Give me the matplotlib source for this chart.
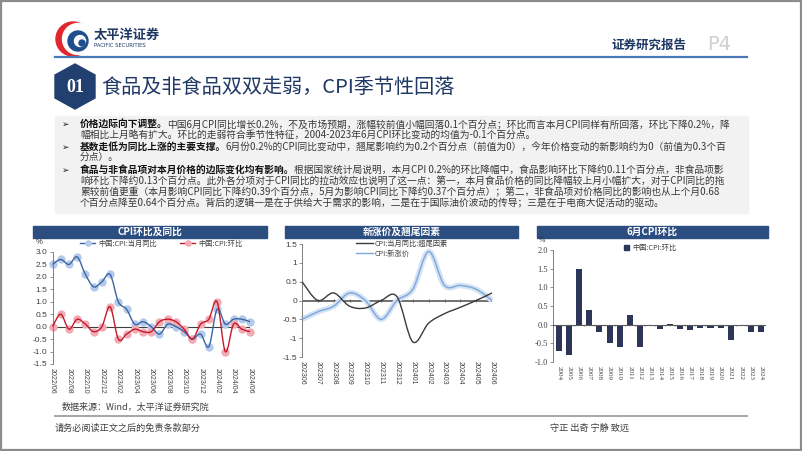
import matplotlib

matplotlib.use("Agg")
import matplotlib.pyplot as plt
from matplotlib.lines import Line2D
from matplotlib.patches import Circle, Patch, PathPatch, Polygon, Rectangle
from matplotlib.path import Path

plt.rcParams["font.family"] = ["Noto Sans CJK SC", "DejaVu Sans"]

W, H = 802, 451

# --- chart 1: CPI yoy / mom -------------------------------------------------
CPI_MONTHS = [
    "2022/06", "2022/07", "2022/08", "2022/09", "2022/10", "2022/11", "2022/12",
    "2023/01", "2023/02", "2023/03", "2023/04", "2023/05", "2023/06", "2023/07",
    "2023/08", "2023/09", "2023/10", "2023/11", "2023/12", "2024/01", "2024/02",
    "2024/03", "2024/04", "2024/05", "2024/06",
]
CPI_YOY = [2.5, 2.7, 2.5, 2.8, 2.1, 1.6, 1.8, 2.1, 1.0, 0.7, 0.1, 0.2, 0.0,
           -0.3, 0.1, 0.0, -0.2, -0.5, -0.3, -0.8, 0.7, 0.1, 0.3, 0.3, 0.2]
CPI_MOM = [0.0, 0.5, -0.1, 0.3, 0.1, -0.2, 0.0, 0.8, -0.5, -0.3, -0.1, -0.2, -0.2,
           0.2, 0.3, 0.2, -0.1, -0.5, 0.1, 0.3, 1.0, -1.0, 0.1, -0.1, -0.2]

# --- chart 2: carry-over vs new price ---------------------------------------
DECOMP_MONTHS = ["202306", "202307", "202308", "202309", "202310", "202311", "202312",
                 "202401", "202402", "202403", "202404", "202405", "202406"]
CARRYOVER = [0.5, 0.0, 0.2, -0.15, -0.2, 0.0, 0.1, -1.1, -0.6, -0.35, -0.18, 0.0, 0.2]
NEW_PRICE = [-0.5, -0.3, -0.15, 0.2, 0.0, -0.5, 0.0, 0.3, 1.3, 0.4, 0.4, 0.3, 0.0]

# --- chart 3: June mom by year ----------------------------------------------
JUNE_YEARS = ["2004", "2005", "2006", "2007", "2008", "2009", "2010", "2011", "2012",
              "2013", "2014", "2015", "2016", "2017", "2018", "2019", "2020", "2021",
              "2022", "2023", "2024"]
JUNE_MOM = [-0.7, -0.8, 1.5, 0.4, -0.2, -0.5, -0.6, 0.27, -0.6, 0.0, -0.12, 0.02,
            -0.12, -0.15, -0.1, -0.1, -0.1, -0.4, 0.0, -0.2, -0.2]

# --- body text ----------------------------------------------------------------
BODY = [
    ("价格边际向下调整。", "中国6月CPI同比增长0.2%，不及市场预期，涨幅较前值小幅回落0.1个百分点；环比而言本月CPI同样有所回落，环比下降0.2%，降"),
    ("", "幅相比上月略有扩大。环比的走弱符合季节性特征，2004-2023年6月CPI环比变动的均值为-0.1个百分点。"),
    ("基数走低为同比上涨的主要支撑。", "6月份0.2%的CPI同比变动中，翘尾影响约为0.2个百分点（前值为0），今年价格变动的新影响约为0（前值为0.3个百"),
    ("", "分点）。"),
    ("食品与非食品项对本月价格的边际变化均有影响。", "根据国家统计局说明，本月CPI 0.2%的环比降幅中，食品影响环比下降约0.11个百分点，非食品项影"),
    ("", "响环比下降约0.13个百分点。此外各分项对于CPI同比的拉动效应也说明了这一点：第一，本月食品价格的同比降幅较上月小幅扩大，对于CPI同比的拖"),
    ("", "累较前值更重（本月影响CPI同比下降约0.39个百分点，5月为影响CPI同比下降约0.37个百分点）；第二，非食品项对价格同比的影响也从上个月0.68"),
    ("", "个百分点降至0.64个百分点。背后的逻辑一是在于供给大于需求的影响，二是在于国际油价波动的传导；三是在于电商大促活动的驱动。"),
]
BODY_Y = [124, 135, 147, 157, 170, 181, 192, 202]

NAVY = "#1F3864"
HEADER_BLUE = "#2C4D7F"
TEXT = "#383838"
FS_BODY = 7.0


def px_axes(fig, x0, y0, x1, y1):
    return fig.add_axes([x0 / W, 1 - y1 / H, (x1 - x0) / W, (y1 - y0) / H])


def smooth_path(xs, ys):
    pts = list(zip(xs, ys))
    n = len(pts)
    verts, codes = [pts[0]], [Path.MOVETO]
    for i in range(n - 1):
        p0 = pts[i - 1] if i > 0 else pts[i]
        p1, p2 = pts[i], pts[i + 1]
        p3 = pts[i + 2] if i + 2 < n else pts[i + 1]
        c1 = (p1[0] + (p2[0] - p0[0]) / 6, p1[1] + (p2[1] - p0[1]) / 6)
        c2 = (p2[0] - (p3[0] - p1[0]) / 6, p2[1] - (p3[1] - p1[1]) / 6)
        verts += [c1, c2, p2]
        codes += [Path.CURVE4] * 3
    return Path(verts, codes)


def chart_header(bg, x0, x1, title):
    bg.add_patch(Rectangle((x0, 226), x1 - x0, 11.5, color=HEADER_BLUE, zorder=2))
    bg.text((x0 + x1) / 2, 231.5, title, color="white", fontsize=7, fontweight="bold",
            ha="center", va="center", zorder=3)


def style_axes(ax, tick_font, ysize):
    ax.set_facecolor("none")
    for side in ("top", "right", "bottom"):
        ax.spines[side].set_visible(False)
    ax.spines["left"].set_color("#7F7F7F")
    ax.spines["left"].set_linewidth(0.7)
    ax.tick_params(axis="y", length=2, width=0.6, color="#7F7F7F", pad=1.5,
                   labelsize=ysize, labelcolor="#404040")
    ax.tick_params(axis="x", length=0, pad=3, labelsize=5, labelcolor="#404040")
    for lab in ax.get_yticklabels():
        lab.set_family(tick_font)


def draw_frame(fig):
    bg = fig.add_axes([0, 0, 1, 1])
    bg.set_xlim(0, W)
    bg.set_ylim(H, 0)
    bg.axis("off")

    # slide border
    bg.add_patch(Rectangle((0.8, 0.8), W - 1.6, H - 1.6, fill=False,
                           edgecolor="#8C8C8C", lw=1.6))

    # logo
    bg.add_patch(Circle((73, 39), 17, color="#E1262D"))
    bg.add_patch(Circle((78, 39), 15.5, color="white"))
    bg.add_patch(Circle((78, 41), 10, color="#1E4E8C"))
    bg.add_patch(Circle((80, 41), 5.5, color="white"))
    bg.add_patch(Circle((82, 43), 3, color="#1E4E8C"))
    bg.text(94, 35, "太平洋证券", fontsize=9.5, fontweight="bold", color=NAVY, va="center")
    bg.text(94, 45.5, "PACIFIC SECURITIES", fontsize=3.8, color=NAVY, va="center",
            family="DejaVu Sans")

    bg.text(611, 45, "证券研究报告", fontsize=9, fontweight="bold", color=NAVY, va="center")
    bg.text(707, 45, "P4", fontsize=14, color="#CFCFCF", va="center", family="DejaVu Sans")
    bg.plot([55, 747], [56.5, 56.5], color="#4A78B5", lw=1.6)

    # section badge and title
    bg.add_patch(Polygon([(75, 64), (95, 75), (95, 98), (75, 109), (55, 98), (55, 75)],
                         closed=True, color="#21406F"))
    bg.text(75, 87, "01", color="white", fontsize=13, fontweight="bold",
            ha="center", va="center", family="Liberation Serif")
    bg.text(101, 87, "食品及非食品双双走弱，CPI季节性回落", fontsize=14.5, color=NAVY,
            va="center")

    # text box
    bg.add_patch(Rectangle((55, 116), 693, 97, color="#F2F2F2", zorder=0))
    for (bold, rest), y in zip(BODY, BODY_Y):
        if bold:
            bg.text(62, y, "➢", fontsize=6.5, color="#222222", va="center",
                    family=["DejaVu Sans"])
            bg.text(80, y, bold, fontsize=FS_BODY, fontweight="bold", color="#111111",
                    va="center")
            bg.annotate(rest, xy=(80, y), xytext=(len(bold) * FS_BODY, 0),
                        textcoords="offset points", fontsize=FS_BODY, color=TEXT,
                        va="center")
        else:
            bg.text(80, y, rest, fontsize=FS_BODY, color=TEXT, va="center")

    chart_header(bg, 33, 267, "CPI环比及同比")
    chart_header(bg, 285, 518, "新涨价及翘尾因素")
    chart_header(bg, 537, 768, "6月CPI环比")

    bg.text(39, 242, "%", fontsize=5.5, color="#333333", ha="center", va="center",
            family="Liberation Sans")
    bg.text(542, 240, "%", fontsize=5.5, color="#333333", ha="center", va="center",
            family="Liberation Serif")

    bg.text(62, 407, "数据来源：Wind，太平洋证券研究院", fontsize=6.5, color="#404040",
            va="center")
    bg.plot([55, 747], [416, 416], color="#A6A6A6", lw=1.4)
    bg.text(55, 428, "请务必阅读正文之后的免责条款部分", fontsize=6.6, color="#404040",
            va="center")
    bg.text(550, 428, "守正 出奇 宁静 致远", fontsize=6.6, color="#404040", va="center")
    return bg


def plot_cpi(fig):
    ax = px_axes(fig, 52.5, 252, 250, 364)
    xs = list(range(len(CPI_MONTHS)))
    ax.set_xlim(0, len(CPI_MONTHS) - 1)
    ax.set_ylim(-1.5, 3.0)
    ax.set_yticks([-1.5, -1.0, -0.5, 0.0, 0.5, 1.0, 1.5, 2.0, 2.5, 3.0])
    ax.set_yticklabels([f"{v:.1f}" for v in ax.get_yticks()])
    ax.set_xticks(xs[::2])
    ax.set_xticklabels(CPI_MONTHS[::2], rotation=-90, family="Liberation Sans")
    style_axes(ax, "Liberation Sans", 6)
    ax.axhline(0, color="#404040", lw=0.8, zorder=1)

    ax.plot(xs, CPI_YOY, "o", ms=5, color="#B3CAEA", clip_on=False, zorder=2)
    ax.plot(xs, CPI_MOM, "o", ms=5, color="#F2AAB3", clip_on=False, zorder=2)
    ax.add_patch(PathPatch(smooth_path(xs, CPI_YOY), fill=False, edgecolor="#3D64A2",
                           lw=1.0, zorder=3, clip_on=False))
    ax.add_patch(PathPatch(smooth_path(xs, CPI_MOM), fill=False, edgecolor="#C4182C",
                           lw=1.0, zorder=3, clip_on=False))

    handles = [
        Line2D([], [], color="#3D64A2", lw=1.0, marker="o", ms=3.8, mfc="#B3CAEA",
               mec="#B3CAEA"),
        Line2D([], [], color="#C4182C", lw=1.0, marker="o", ms=3.8, mfc="#F2AAB3",
               mec="#F2AAB3"),
    ]
    ax.legend(handles, ["中国:CPI:当月同比", "中国:CPI:环比"], ncol=2, frameon=False,
              loc="center left", bbox_to_anchor=(0.14, 1.072), borderpad=0,
              borderaxespad=0, fontsize=5.2, handlelength=2.1, handletextpad=0.4,
              columnspacing=3.2, labelcolor="#404040")


def plot_decomp(fig):
    ax = px_axes(fig, 302, 244, 492, 357)
    xs = list(range(len(DECOMP_MONTHS)))
    ax.set_xlim(0, len(DECOMP_MONTHS) - 1)
    ax.set_ylim(-1.5, 1.5)
    ax.set_yticks([-1.5, -1.0, -0.5, 0.0, 0.5, 1.0, 1.5])
    ax.set_yticklabels([f"{v:g}" for v in ax.get_yticks()])
    ax.set_xticks(xs)
    ax.set_xticklabels(DECOMP_MONTHS, rotation=-90, family="Liberation Sans")
    style_axes(ax, "Liberation Sans", 6)
    ax.axhline(0, color="#595959", lw=1.2, zorder=1)
    ax.vlines(xs, -0.04, 0.04, color="#595959", lw=0.6, zorder=1)

    ax.add_patch(PathPatch(smooth_path(xs, NEW_PRICE), fill=False, edgecolor="#D3E3F5",
                           lw=4.0, zorder=2, clip_on=False))
    ax.add_patch(PathPatch(smooth_path(xs, NEW_PRICE), fill=False, edgecolor="#7EA6D9",
                           lw=1.0, zorder=3, clip_on=False))
    ax.add_patch(PathPatch(smooth_path(xs, CARRYOVER), fill=False, edgecolor="#3A3A3A",
                           lw=1.0, zorder=4, clip_on=False))

    handles = [Line2D([], [], color="#3A3A3A", lw=1.0),
               Line2D([], [], color="#7EA6D9", lw=1.0)]
    ax.legend(handles, ["CPI:当月同比:翘尾因素", "CPI:新涨价"], frameon=False,
              loc="center left", bbox_to_anchor=(0.284, 0.96), borderpad=0,
              borderaxespad=0, fontsize=5.2, handlelength=2.3, handletextpad=0.3,
              labelspacing=0.3, labelcolor="#404040")


def plot_june(fig):
    ax = px_axes(fig, 553, 250, 766, 362)
    xs = list(range(len(JUNE_YEARS)))
    ax.set_xlim(-0.6, len(JUNE_YEARS) - 0.5)
    ax.set_ylim(-1.0, 2.0)
    ax.set_yticks([-1.0, -0.5, 0.0, 0.5, 1.0, 1.5, 2.0])
    ax.set_yticklabels([f"{v:.1f}" for v in ax.get_yticks()])
    ax.set_xticks(xs)
    ax.set_xticklabels(JUNE_YEARS, rotation=-90, family="Liberation Serif", fontsize=5.5)
    style_axes(ax, "Liberation Serif", 6)
    ax.bar(xs, JUNE_MOM, width=0.6, color="#2D3558", zorder=2)
    ax.axhline(0, color="#595959", lw=0.8, zorder=3)
    ax.vlines([x + 0.5 for x in xs], -0.03, 0.0, color="#595959", lw=0.5, zorder=3)

    ax.legend([Patch(color="#2D3558")], ["中国:CPI:环比"], frameon=False,
              loc="center left", bbox_to_anchor=(0.335, 1.018), borderpad=0,
              borderaxespad=0, fontsize=5.2, handlelength=0.7, handleheight=0.7,
              handletextpad=0.4, labelcolor="#404040")


def main():
    fig = plt.figure(figsize=(W / 100, H / 100), dpi=100)
    draw_frame(fig)
    plot_cpi(fig)
    plot_decomp(fig)
    plot_june(fig)
    fig.savefig("out.png", dpi=100)
    plt.close(fig)


if __name__ == "__main__":
    main()
